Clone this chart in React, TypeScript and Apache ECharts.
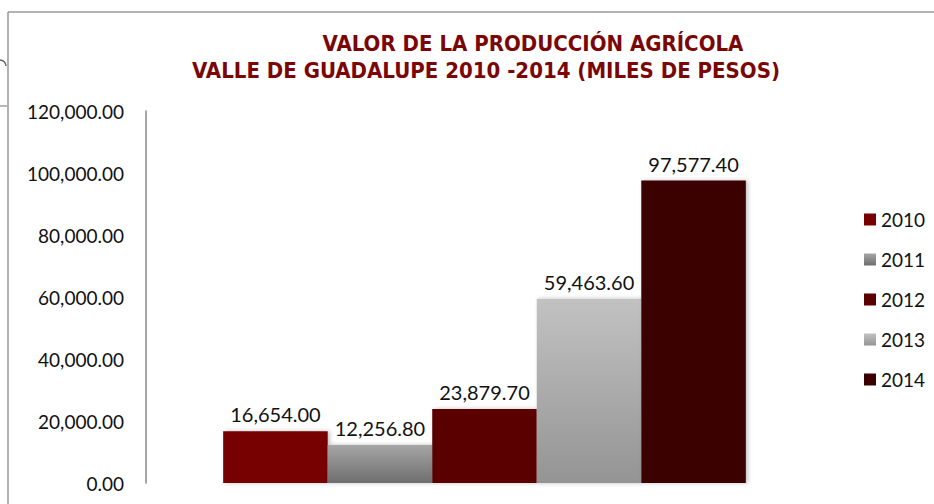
import React, { useEffect, useRef } from "react";
import * as echarts from "echarts";

const years = ["2010", "2011", "2012", "2013", "2014"];
const values = [16654.0, 12256.8, 23879.7, 59463.6, 97577.4];
const categories = ["Valle de Guadalupe"];
const yTicks = { min: 0, max: 120000, interval: 20000 };
const titleLine1 = "VALOR DE LA PRODUCCIÓN AGRÍCOLA";
const titleLine2 = "VALLE DE GUADALUPE 2010 -2014 (MILES DE PESOS)";

const grad = (top: string, bottom: string) =>
  new echarts.graphic.LinearGradient(0, 0, 0, 1, [
    { offset: 0, color: top },
    { offset: 1, color: bottom },
  ]);

const seriesColors = [
  "#770000",
  grad("#a6a6a6", "#6e6e6e"),
  "#5a0000",
  grad("#c2c2c2", "#949494"),
  "#3b0000",
];

const fmt = (v: number) =>
  v.toLocaleString("en-US", { minimumFractionDigits: 2, maximumFractionDigits: 2 });

export default function App() {
  const ref = useRef<HTMLDivElement>(null);
  useEffect(() => {
    if (!ref.current) return;
    const chart = echarts.init(ref.current, undefined, { renderer: "svg" });
    const font = "Lato, 'Open Sans', sans-serif";
    chart.setOption({
      animation: false,
      backgroundColor: "#ffffff",
      textStyle: { fontFamily: font },
      grid: { left: 146, top: 111, right: 111, bottom: 21, containLabel: false },
      legend: {
        orient: "vertical",
        left: 859,
        top: 205,
        itemWidth: 12,
        itemHeight: 12,
        itemGap: 21,
        icon: "rect",
        textStyle: { fontSize: 19, color: "#111", fontFamily: font, lineHeight: 19 },
        data: years,
      },
      xAxis: {
        type: "category",
        data: categories,
        axisLine: { show: false },
        axisTick: { show: false },
        axisLabel: { show: false },
      },
      yAxis: {
        type: "value",
        min: yTicks.min,
        max: yTicks.max,
        interval: yTicks.interval,
        axisLine: { show: true, lineStyle: { color: "#888", width: 1.5 } },
        axisTick: { show: false },
        axisLabel: {
          margin: 22,
          fontSize: 19,
          color: "#111",
          fontFamily: font,
          formatter: (v: number) => fmt(v),
        },
        splitLine: {
          show: true,
          lineStyle: {
            color: "#999",
            width: 1.5,
            shadowColor: "rgba(0,0,0,0.25)",
            shadowBlur: 3,
            shadowOffsetY: 2,
          },
        },
      },
      series: years.map((y, i) => ({
        name: y,
        type: "bar",
        data: [values[i]],
        barGap: "0%",
        barCategoryGap: "22.8%",
        itemStyle: {
          color: seriesColors[i],
          shadowColor: "rgba(0,0,0,0.25)",
          shadowBlur: 4,
          shadowOffsetX: 2,
        },
        label: {
          show: true,
          position: "top",
          distance: 7,
          fontSize: 20,
          color: "#111",
          fontFamily: font,
          formatter: (p: any) => fmt(p.value),
        },
      })),
      graphic: [
        {
          type: "line",
          shape: { x1: 8, y1: 12, x2: 934, y2: 12 },
          style: { stroke: "#999", lineWidth: 1.5 },
        },
        {
          type: "line",
          shape: { x1: 8, y1: 12, x2: 8, y2: 504 },
          style: { stroke: "#999", lineWidth: 1.5 },
        },
        {
          type: "line",
          shape: { x1: 0, y1: 106, x2: 7, y2: 106 },
          style: { stroke: "#888", lineWidth: 1.2 },
        },
        {
          type: "arc",
          shape: { cx: 0, cy: 66, r: 6, startAngle: -Math.PI / 2, endAngle: 0 },
          style: { stroke: "#666", lineWidth: 1.5, fill: "none" },
        },
        {
          type: "text",
          x: 533,
          y: 43,
          style: {
            text: titleLine1,
            fill: "#7a0606",
            font: "bold 22px 'DejaVu Sans Condensed', sans-serif",
            textAlign: "center",
            textVerticalAlign: "middle",
          },
        },
        {
          type: "text",
          x: 486,
          y: 70,
          style: {
            text: titleLine2,
            fill: "#7a0606",
            font: "bold 22px 'DejaVu Sans Condensed', sans-serif",
            textAlign: "center",
            textVerticalAlign: "middle",
          },
        },
      ],
    });
    return () => chart.dispose();
  }, []);
  return <div ref={ref} style={{ width: 934, height: 504, position: "absolute", left: 0, top: 0 }} />;
}
